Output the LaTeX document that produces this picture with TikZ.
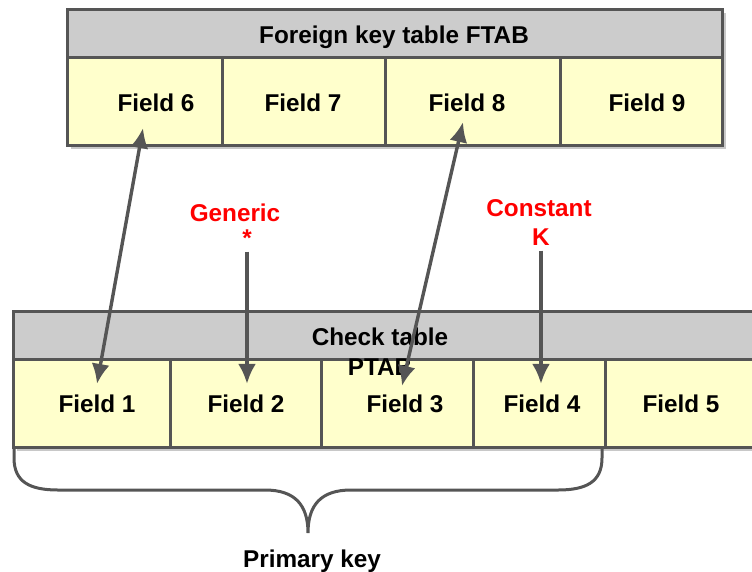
\documentclass[tikz,border=0pt]{standalone}
\usepackage{fontspec}
\setmainfont{Liberation Sans}
\usetikzlibrary{arrows.meta}
\definecolor{cellyellow}{HTML}{FFFFCC}
\definecolor{headgray}{HTML}{CCCCCC}
\definecolor{linegray}{HTML}{555555}
\definecolor{shadowgray}{HTML}{C8C8C8}
\tikzset{x=1pt,y=-1pt,
    cell/.style={draw=linegray,line width=3pt,fill=cellyellow},
    head/.style={draw=linegray,line width=3pt,fill=headgray},
    shadowbox/.style={fill=shadowgray,draw=none},
    fieldtxt/.style={font=\fontsize{24.3}{28}\selectfont\bfseries,inner sep=3pt},
    redtxt/.style={font=\fontsize{24.3}{28}\selectfont\bfseries,text=red,inner sep=1pt},
    link/.style={draw=linegray,line width=3.4pt,-{Latex[length=20pt,width=18pt]}},
    both/.style={link,{Latex[length=20pt,width=18pt]}-{Latex[length=20pt,width=18pt]}},
    }
\begin{document}
\begin{tikzpicture}
\useasboundingbox (0,0) rectangle (752,571);
\clip (0,0) rectangle (752,571);
% foreign key table
\fill[shadowbox] (71,13) rectangle (726,149);
\draw[head] (67,9) rectangle (722,57);
\foreach \a/\b in {67/222,222/385,385/560,560/722}
  \draw[cell] (\a,57) rectangle (\b,145);
\node[fieldtxt] (ftab) at (394,37) {Foreign key table FTAB};
\node[fieldtxt] (f6) at (156,103) {Field 6};
\node[fieldtxt] (f7) at (303,103) {Field 7};
\node[fieldtxt] (f8) at (467,103) {Field 8};
\node[fieldtxt] (f9) at (647,103) {Field 9};
% check table
\fill[shadowbox] (17,315) rectangle (764,451);
\draw[head] (13,311) rectangle (764,359);
\foreach \a/\b in {13/170,170/321,321/473,473/605,605/764}
  \draw[cell] (\a,359) rectangle (\b,447);
\node[fieldtxt,align=center] (ptab) at (380,352) {Check table\\[2pt]PTAB};
\node[fieldtxt] (f1) at (97,404) {Field 1};
\node[fieldtxt] (f2) at (246,404) {Field 2};
\node[fieldtxt] (f3) at (405,404) {Field 3};
\node[fieldtxt] (f4) at (542,404) {Field 4};
\node[fieldtxt] (f5) at (681,404) {Field 5};
% labels
\node[redtxt] (gen) at (235,213) {Generic};
\node[redtxt] (star) at (247,238) {*};
\node[redtxt] (const) at (539,208) {Constant};
\node[redtxt] (kay) at (541,237) {K};
\node[fieldtxt] (pk) at (312,561) {Primary key};
% connectors
\draw[both] ([shift={(-13,13)}]f6.south) -- ([shift={(0,-8)}]f1.north);
\draw[both] ([shift={(-4,7)}]f8.south) -- ([shift={(-3,-6)}]f3.north);
\draw[link] ([shift={(0,4)}]star.south) -- ([shift={(1,-8)}]f2.north);
\draw[link] ([shift={(0,4)}]kay.south) -- ([shift={(-1,-8)}]f4.north);
% brace
\draw[draw=linegray,line width=3pt] (14,448) -- (14,458)
  .. controls (14,482) and (30,490) .. (58,490) -- (265,490)
  .. controls (295,490) and (308,505) .. (308,533)
  .. controls (308,505) and (321,490) .. (351,490) -- (558,490)
  .. controls (586,490) and (602,482) .. (602,458) -- (602,448);
\end{tikzpicture}
\end{document}
